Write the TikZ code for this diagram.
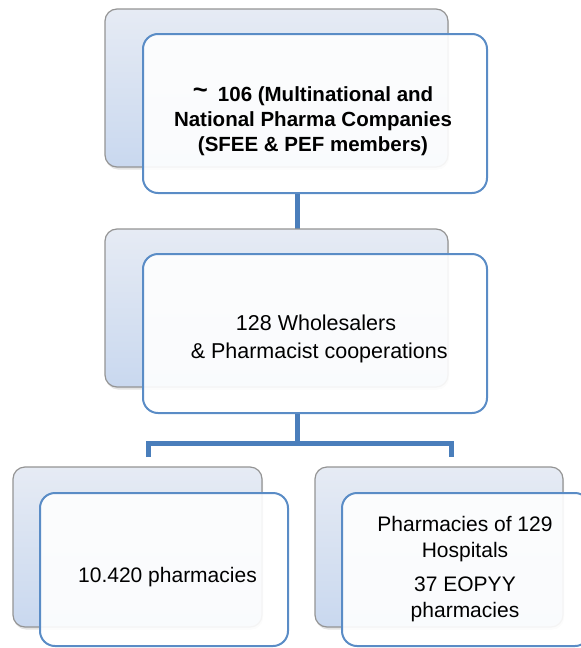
\documentclass[tikz,border=0pt]{standalone}
\usepackage{fontspec}
\setmainfont{Liberation Sans}
\usetikzlibrary{shadows}
\definecolor{connblue}{HTML}{4A7EBB}
\definecolor{frontblue}{HTML}{5A8CC6}
\definecolor{backtop}{HTML}{E6EBF4}
\definecolor{backbottom}{HTML}{C9D8EF}
\definecolor{backborder}{HTML}{949494}
\tikzset{
  backbox/.style={rectangle, rounded corners=12pt, draw=backborder, line width=1.2pt,
    top color=backtop, bottom color=backbottom,
    drop shadow={shadow xshift=1pt, shadow yshift=-2.5pt, opacity=0.22}},
  frontbox/.style={rectangle, rounded corners=15pt, draw=frontblue, line width=2pt,
    fill=white, fill opacity=0.9},
  conn/.style={draw=connblue, line width=5.5pt},
  txt/.style={align=center, text=black},
}
\begin{document}
\begin{tikzpicture}[x=1pt, y=-1pt]
\useasboundingbox (0,0) rectangle (581,648);
% coordinates for connectors
\coordinate (ax) at (297.5,0);
\coordinate (hy) at (297.5,443.5);
\coordinate (jl) at (148.5,457);
\coordinate (jr) at (451.5,457);
% top level
\node[backbox, minimum width=343pt, minimum height=158pt] (b1) at (276.5,88) {};
\node[frontbox, minimum width=344pt, minimum height=159pt] (f1) at (315,113.5) {};
\draw[conn] (ax |- f1.south) -- (ax |- 229,229);
% middle level
\node[backbox, minimum width=343pt, minimum height=158pt] (b2) at (276.5,308) {};
\node[frontbox, minimum width=344pt, minimum height=159pt] (f2) at (315,333.5) {};
\draw[conn] (ax |- f2.south) -- (hy);
\draw[conn] (jl) |- (hy) -| (jr);
% bottom level
\node[backbox, minimum width=249pt, minimum height=160pt] (b3) at (137.5,547) {};
\node[frontbox, minimum width=248pt, minimum height=153pt] (f3) at (164,569.5) {};
\node[backbox, minimum width=248pt, minimum height=160pt] (b4) at (439,547) {};
\node[frontbox, minimum width=248pt, minimum height=153pt] (f4) at (466,569.5) {};
% texts
\node[txt, font=\fontsize{20.5}{25}\selectfont\bfseries] (t1) at (313,121)
  {\raisebox{3pt}{\scalebox{1.25}{\textasciitilde}}\hspace{0.5em}106 (Multinational and\\National Pharma Companies\\(SFEE \& PEF members)};
\node[txt, font=\fontsize{21.5}{28}\selectfont] (t2) at (316,339)
  {128 Wholesalers\\\hspace{0.3em}\& Pharmacist cooperations};
\node[txt, font=\fontsize{21}{25}\selectfont] (t3) at (167.5,577) {10.420 pharmacies};
\node[txt, font=\fontsize{21}{26}\selectfont] (t4) at (465,569)
  {Pharmacies of 129\\Hospitals\\[8pt]37 EOPYY\\pharmacies};
\end{tikzpicture}
\end{document}
